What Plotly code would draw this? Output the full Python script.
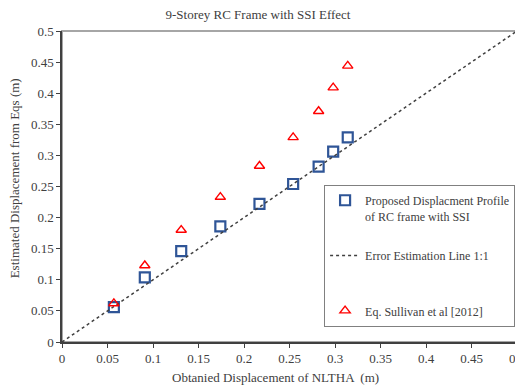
import plotly.graph_objects as go

obtained = [0.057, 0.091, 0.131, 0.174, 0.217, 0.254, 0.282, 0.298, 0.314]
proposed = [0.056, 0.104, 0.146, 0.186, 0.222, 0.254, 0.282, 0.306, 0.329]
sullivan = [0.062, 0.123, 0.180, 0.233, 0.283, 0.329, 0.371, 0.409, 0.444]
line_xy = [0, 0.5]
tick_vals = [0, 0.05, 0.1, 0.15, 0.2, 0.25, 0.3, 0.35, 0.4, 0.45, 0.5]
tick_text = ["0", "0.05", "0.1", "0.15", "0.2", "0.25", "0.3", "0.35", "0.4", "0.45", "0.5"]

font = "Liberation Serif"
txt = "#404040"

fig = go.Figure()
fig.add_trace(go.Scatter(
    x=obtained, y=proposed, mode="markers",
    name="Proposed Displacment Profile<br>of RC frame with SSI",
    legendgroup="a",
    marker=dict(symbol="square-open", size=10, color="#2F5597", line=dict(width=2.2, color="#2F5597")),
))
fig.add_trace(go.Scatter(
    x=line_xy, y=line_xy, mode="lines",
    name="Error Estimation Line 1:1<br>&nbsp;",
    legendgroup="b",
    line=dict(color="#404040", width=1.5, dash="dot"),
))
fig.add_trace(go.Scatter(
    x=obtained, y=sullivan, mode="markers",
    name="Eq. Sullivan et al [2012]",
    legendgroup="c",
    marker=dict(symbol="triangle-up-open", size=9, color="#FF0000", line=dict(width=1.4, color="#FF0000")),
))

fig.add_shape(type="rect", xref="paper", yref="paper", x0=0, y0=0, x1=1, y1=1,
              line=dict(color="#A6A6A6", width=2), layer="below")

axis_common = dict(
    range=[0, 0.5], tickmode="array", tickvals=tick_vals, ticktext=tick_text,
    showgrid=False, zeroline=False, showline=True, linecolor="#404040", linewidth=1.5,
    ticks="outside", ticklen=4, tickcolor="#404040", automargin=False,
    ticklabeloverflow="allow",
    tickfont=dict(family=font, size=13, color=txt),
)

# page body has a default 8px margin; the plot area is placed to match the reference
fig.update_layout(
    width=523, height=381,
    margin=dict(l=54, r=14, t=23, b=47),
    paper_bgcolor="white", plot_bgcolor="white",
    title=dict(text="9-Storey RC Frame with SSI Effect", x=0.478, xanchor="center", y=0.982, yanchor="middle",
               font=dict(family=font, size=13, color=txt)),
    xaxis=dict(**axis_common),
    yaxis=dict(**axis_common),
    legend=dict(x=0.576, y=0.505, xanchor="left", yanchor="top", valign="top",
                bordercolor="#808080", borderwidth=1, bgcolor="white",
                font=dict(family=font, size=12, color=txt),
                traceorder="grouped", tracegroupgap=21),
    showlegend=True,
    annotations=[
        dict(text="Obtanied Displacement of NLTHA  (m)", xref="paper", yref="paper",
             x=0.47, y=-0.113, xanchor="center", yanchor="middle", showarrow=False,
             font=dict(family=font, size=13, color=txt)),
        dict(text="Estimated Displacement from Eqs (m)", xref="paper", yref="paper",
             x=-0.105, y=0.527, xanchor="center", yanchor="middle", showarrow=False, textangle=-90,
             font=dict(family=font, size=13, color=txt)),
    ],
)

fig.write_html("out.html")
